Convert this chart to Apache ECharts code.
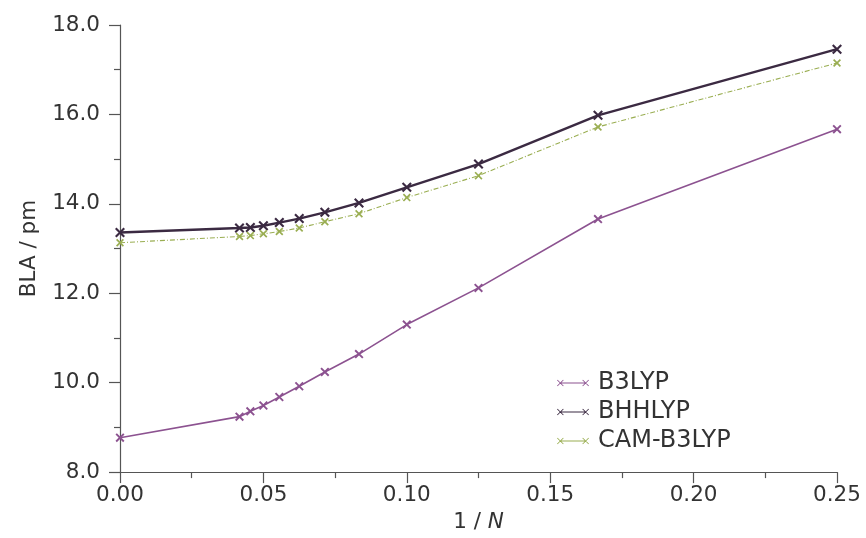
<!DOCTYPE html>
<html>
<head>
<meta charset="utf-8">
<script src="https://cdn.jsdelivr.net/npm/echarts@6/dist/echarts.min.js"></script>
<style>html,body{margin:0;padding:0;background:#fff;}#c{width:866px;height:538px;}</style>
</head>
<body>
<div id="c"></div>
<script>
// 1/N values (N = inf, 24, 22, 20, 18, 16, 14, 12, 10, 8, 6, 4)
const invN = [0, 1/24, 1/22, 1/20, 1/18, 1/16, 1/14, 1/12, 1/10, 1/8, 1/6, 1/4];
const b3lyp  = [8.77, 9.24, 9.36, 9.49, 9.68, 9.92, 10.24, 10.64, 11.30, 12.12, 13.66, 15.67];
const bhhlyp = [13.36, 13.46, 13.47, 13.51, 13.58, 13.67, 13.81, 14.02, 14.37, 14.89, 15.98, 17.46];
const camb3lyp = [13.13, 13.27, 13.29, 13.33, 13.38, 13.46, 13.60, 13.78, 14.14, 14.63, 15.72, 17.15];
const seriesNames = ['B3LYP', 'BHHLYP', 'CAM-B3LYP'];
const yTicks = [8, 10, 12, 14, 16, 18];
const xTicks = [0, 0.05, 0.10, 0.15, 0.20, 0.25];

const crossPath = 'path://M0,0.15 L0.15,0 L1,0.85 L0.85,1 Z M0.85,0 L1,0.15 L0.15,1 L0,0.85 Z';
const legendIcon = 'path://M0.3,1 L1,0.3 L7.7,7 L7,7.7 Z M7,0.3 L7.7,1 L1,7.7 L0.3,7 Z M4,3.5 L32,3.5 L32,4.5 L4,4.5 Z M28.3,1 L29,0.3 L35.7,7 L35,7.7 Z M35,0.3 L35.7,1 L29,7.7 L28.3,7 Z';

const colors = ['#8c5290', '#3b2a42', '#9aae52'];
const pair = arr => invN.map((x, i) => [x, arr[i]]);
const font = 'DejaVu Sans';
const txt = '#333333';
const axisCol = '#555555';
const fs = 21.5;

const chart = echarts.init(document.getElementById('c'), null, {renderer: 'canvas'});
chart.setOption({
  animation: false,
  backgroundColor: '#ffffff',
  grid: {left: 120, right: 29, top: 25, bottom: 63, containLabel: false},
  legend: {
    orient: 'vertical', left: 552, top: 366, itemGap: 5,
    itemWidth: 32, itemHeight: 8,
    textStyle: {fontFamily: font, fontSize: 24, color: txt, lineHeight: 24, padding: [0,0,0,4]},
    data: seriesNames.map((n, i) => ({name: n, icon: legendIcon, itemStyle: {color: colors[i]}}))
  },
  xAxis: {
    type: 'value', min: 0, max: 0.25, interval: 0.05,
    name: '{a|1 / }{b|N}', nameLocation: 'middle', nameGap: 33,
    nameTextStyle: {rich: {a: {fontFamily: font, fontSize: fs, color: txt}, b: {fontFamily: font, fontSize: fs, color: txt, fontStyle: 'italic'}}},
    axisLine: {show: true, onZero: false, lineStyle: {color: axisCol, width: 1.2}},
    axisTick: {show: true, inside: false, length: 11, lineStyle: {color: axisCol, width: 1.2}},
    minorTick: {show: true, splitNumber: 2, length: 6, lineStyle: {color: axisCol, width: 1.2}},
    splitLine: {show: false},
    axisLabel: {fontFamily: font, fontSize: fs, color: txt, margin: 12, formatter: v => v.toFixed(2)}
  },
  yAxis: {
    type: 'value', min: 8, max: 18, interval: 2,
    name: 'BLA / pm', nameLocation: 'middle', nameGap: 80, nameRotate: 90,
    nameTextStyle: {fontFamily: font, fontSize: fs, color: txt},
    axisLine: {show: true, lineStyle: {color: axisCol, width: 1.2}},
    axisTick: {show: true, inside: false, length: 11, lineStyle: {color: axisCol, width: 1.2}},
    minorTick: {show: true, splitNumber: 2, length: 6, lineStyle: {color: axisCol, width: 1.2}},
    splitLine: {show: false},
    axisLabel: {fontFamily: font, fontSize: fs, color: txt, margin: 20, formatter: v => v.toFixed(1)}
  },
  series: [
    {name: seriesNames[0], type: 'line', data: pair(b3lyp), symbol: crossPath, symbolSize: 9,
     itemStyle: {color: colors[0]}, lineStyle: {color: colors[0], width: 1.6}, clip: false},
    {name: seriesNames[1], type: 'line', data: pair(bhhlyp), symbol: crossPath, symbolSize: 10,
     itemStyle: {color: colors[1]}, lineStyle: {color: colors[1], width: 2.4}, clip: false},
    {name: seriesNames[2], type: 'line', data: pair(camb3lyp), symbol: crossPath, symbolSize: 8,
     itemStyle: {color: colors[2]}, lineStyle: {color: colors[2], width: 1.1, type: [5, 2, 1, 2]}, clip: false}
  ]
});
</script>
</body>
</html>
